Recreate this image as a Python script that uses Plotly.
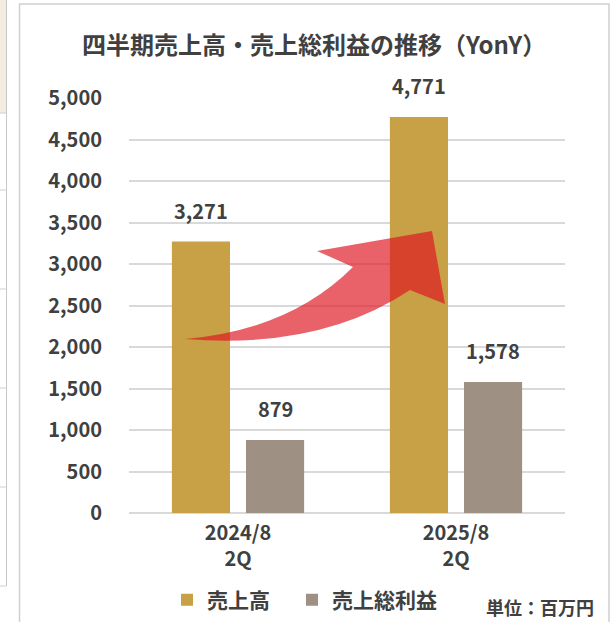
import plotly.graph_objects as go

# ---------------- data ----------------
categories = ["2024/8<br>2Q", "2025/8<br>2Q"]
sales = [3271, 4771]
gross_profit = [879, 1578]
series_names = ["売上高", "売上総利益"]
title_text = "四半期売上高・売上総利益の推移（YonY）"
unit_text = "単位：百万円"
y_tickvals = list(range(0, 5001, 500))

# ---------------- styling ----------------
FONT = "Noto Sans CJK JP"
TXT = "#404040"
GOLD = "#C8A046"
GRAY = "#9E9082"

W, H = 615, 622
L, R, T, B = 129, 50, 98, 109
PW, PH = W - L - R, H - T - B


def px(x):
    return (x - L) / PW


def py(y):
    return (H - B - y) / PH


fig = go.Figure()
fig.add_trace(go.Bar(x=categories, y=sales, name=series_names[0], legendwidth=80,
                     marker=dict(color=GOLD, line=dict(width=0))))
fig.add_trace(go.Bar(x=categories, y=gross_profit, name=series_names[1], legendwidth=115,
                     marker=dict(color=GRAY, line=dict(width=0))))

# value labels above bars
annotations = []
for vals, shift in ((sales, -37), (gross_profit, 37)):
    for c, v in zip(categories, vals):
        annotations.append(dict(x=c, y=v, xref="x", yref="y", text=f"{v:,}",
                                showarrow=False, xshift=shift, yanchor="bottom",
                                yshift=15,
                                font=dict(family=FONT, size=20, color=TXT, weight="bold")))

annotations.append(dict(x=px(313.5), y=py(44), xref="paper", yref="paper",
                        text=title_text, showarrow=False, xanchor="center", yanchor="middle",
                        font=dict(family=FONT, size=24, color=TXT, weight="bold")))
annotations.append(dict(x=px(539.5), y=py(607), xref="paper", yref="paper",
                        text=unit_text, showarrow=False, xanchor="center", yanchor="middle",
                        font=dict(family=FONT, size=18, color=TXT, weight="bold")))

shapes = []
# outer chart border
shapes.append(dict(type="rect", xref="paper", yref="paper",
                   x0=px(19.5), x1=px(609), y0=py(640), y1=py(4),
                   line=dict(color="#d0d0d0", width=1.5), fillcolor="rgba(0,0,0,0)",
                   layer="below"))
# left slide panel decoration
shapes.append(dict(type="rect", xref="paper", yref="paper",
                   x0=px(0), x1=px(6.5), y0=py(113), y1=py(0),
                   line=dict(width=0), fillcolor="#F3ECDF", layer="below"))
shapes.append(dict(type="line", xref="paper", yref="paper",
                   x0=px(6.5), x1=px(6.5), y0=py(586), y1=py(0),
                   line=dict(color="#c8c8c8", width=1)))
for yy in (113, 190, 289, 388, 487, 586):
    shapes.append(dict(type="line", xref="paper", yref="paper",
                       x0=px(0), x1=px(6.5), y0=py(yy), y1=py(yy),
                       line=dict(color="#d0d0d0", width=1)))

# curved red arrow (decoration)
arrow = (f"M {px(185)},{py(339)} Q {px(290)},{py(330)} {px(353)},{py(267)} "
         f"L {px(317)},{py(251)} L {px(432)},{py(231)} L {px(445)},{py(304)} "
         f"L {px(410)},{py(290)} Q {px(320)},{py(350)} {px(185)},{py(339)} Z")
shapes.append(dict(type="path", xref="paper", yref="paper", path=arrow,
                   fillcolor="rgba(222,22,34,0.68)", line=dict(width=0), layer="above"))

fig.update_layout(
    width=W, height=H,
    margin=dict(l=L, r=R, t=T, b=B, pad=0, autoexpand=False),
    paper_bgcolor="white", plot_bgcolor="white",
    barmode="group", bargap=0.32, bargroupgap=0.216,
    font=dict(family=FONT, color=TXT),
    showlegend=True,
    legend=dict(orientation="h", x=px(167), xanchor="left", y=py(600), yanchor="middle",
                font=dict(family=FONT, size=21, color=TXT, weight="bold"),
                bgcolor="rgba(0,0,0,0)"),
    annotations=annotations,
    shapes=shapes,
)
fig.update_yaxes(range=[0, 5000], tickvals=y_tickvals, tickformat=",",
                 showgrid=True, gridcolor="#d9d9d9", gridwidth=2,
                 zeroline=True, zerolinecolor="#d9d9d9", zerolinewidth=2,
                 showline=False, ticks="", ticklabelstandoff=26,
                 tickfont=dict(family=FONT, size=20, color=TXT, weight="bold"),
                 fixedrange=True, automargin=False)
fig.update_xaxes(showgrid=False, showline=False, ticks="", ticklabelstandoff=6,
                 tickfont=dict(family=FONT, size=20, color=TXT, weight="bold"),
                 fixedrange=True, automargin=False)

fig.write_html("out.html", config={"displayModeBar": False},
               post_script="document.body.style.margin='0';document.body.style.overflow='hidden';")
